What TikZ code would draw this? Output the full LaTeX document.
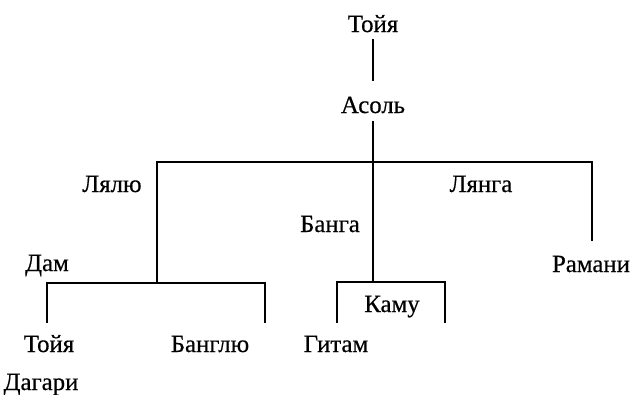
\documentclass[tikz,border=0pt]{standalone}
\usepackage{fontspec}
\newfontfamily\namefont[UprightFeatures={FakeBold=0.5}]{Liberation Serif}
\begin{document}
\begin{tikzpicture}[x=0.75pt, y=-0.75pt,
  person/.style={anchor=base, inner sep=0pt, font=\namefont\fontsize{18.6}{19}\selectfont},
  link/.style={line width=1.6pt, line cap=rect, line join=miter}]
\useasboundingbox (0,0) rectangle (633,394);

% names
\node[person] (toyaTop) at (373,32) {Тойя};
\node[person] (asol)    at (373,113) {Асоль};
\node[person] (lyalyu)  at (112,192) {Лялю};
\node[person] (lyanga)  at (481,192) {Лянга};
\node[person] (banga)   at (330,232) {Банга};
\node[person] (dam)     at (47,271) {Дам};
\node[person] (ramani)  at (591,272) {Рамани};
\node[person] (kamu)    at (392,312) {Каму};
\node[person] (toya)    at (49,352) {Тойя};
\node[person] (banglyu) at (210,352) {Банглю};
\node[person] (gitam)   at (336,352) {Гитам};
\node[person] (dagari)  at (41,390) {Дагари};

% junction points of the tree
\coordinate (topA) at (373,40);
\coordinate (topB) at (373,80);
\coordinate (midTop) at (373,122);
\coordinate (spineL) at (157,162);
\coordinate (spineC) at (373,162);
\coordinate (spineR) at (592,162);
\coordinate (ramEnd) at (592,240);
\coordinate (lyaDrop) at (157,283);
\coordinate (damL) at (47,283);
\coordinate (damR) at (265,283);
\coordinate (damLend) at (47,322);
\coordinate (damRend) at (265,322);
\coordinate (bangDrop) at (373,282);
\coordinate (kamL) at (337,282);
\coordinate (kamR) at (445,282);
\coordinate (kamLend) at (337,322);
\coordinate (kamRend) at (445,322);

% connectors
\draw[link] (topA) -- (topB);
\draw[link] (midTop) -- (bangDrop);
\draw[link] (lyaDrop) -- (spineL) -- (spineR) -- (ramEnd);
\draw[link] (damLend) -- (damL) -- (damR) -- (damRend);
\draw[link] (kamLend) -- (kamL) -- (kamR) -- (kamRend);
\end{tikzpicture}
\end{document}
